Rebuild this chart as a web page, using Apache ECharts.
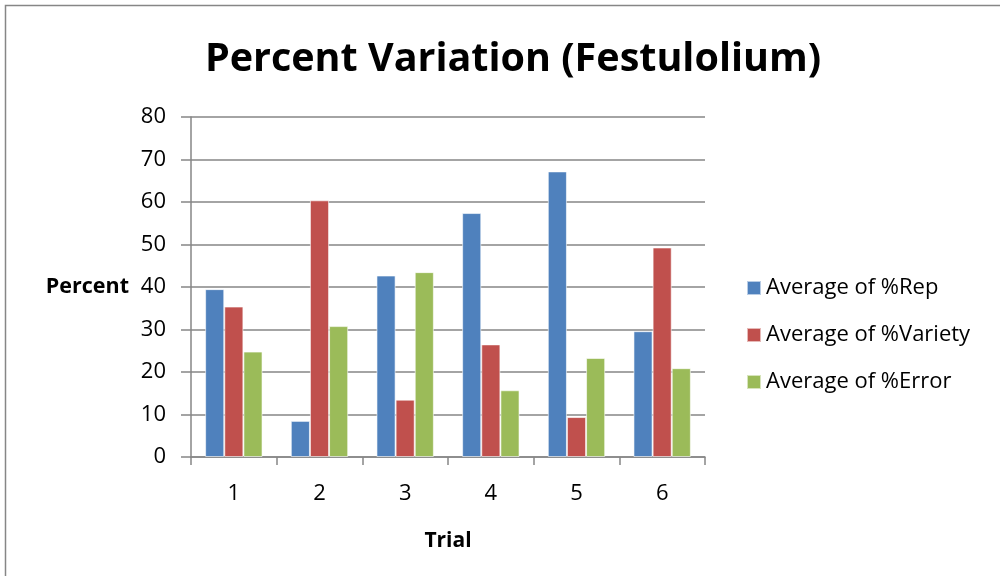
<!DOCTYPE html>
<html><head><meta charset="utf-8">
<script src="https://cdn.jsdelivr.net/npm/echarts@6/dist/echarts.min.js"></script>
<style>html,body{margin:0;padding:0;background:#fff}#c{width:1000px;height:576px}</style>
</head><body><div id="c"></div>
<script>
const categories = ['1','2','3','4','5','6'];
const seriesNames = ['Average of %Rep','Average of %Variety','Average of %Error'];
const rep = [39.5, 8.5, 42.7, 57.4, 67.2, 29.6];
const variety = [35.4, 60.4, 13.5, 26.5, 9.4, 49.3];
const error = [24.8, 30.8, 43.5, 15.7, 23.3, 20.9];
const colors = ['#4F81BD','#C0504D','#9BBB59'];
const FONT = '"Open Sans", sans-serif';
const chart = echarts.init(document.getElementById('c'));
const mk = (name, data, i) => ({
  name, type:'bar', data, barGap:'0%', barCategoryGap:'33%',
  itemStyle:{color:colors[i], borderColor:'rgba(255,255,255,0.6)', borderWidth:1}
});
chart.setOption({
  animation:false,
  title:{text:'Percent Variation (Festulolium)', left:508, textAlign:'center', top:35,
    textStyle:{fontFamily:FONT, fontWeight:'bold', fontSize:39.5, color:'#000'}},
  legend:{orient:'vertical', left:741, top:272, itemGap:25, itemWidth:14, itemHeight:14,
    icon:'rect', textStyle:{fontFamily:FONT, fontSize:22, color:'#000'}, data:seriesNames},
  grid:{left:191, right:295, top:117, bottom:119},
  xAxis:{type:'category', data:categories, name:'Trial', nameLocation:'middle', nameGap:74,
    nameTextStyle:{fontFamily:FONT, fontWeight:'bold', fontSize:21, color:'#000'},
    axisLine:{lineStyle:{color:'#868686', width:1.5}},
    axisTick:{show:true, length:8, lineStyle:{color:'#868686', width:1.5}},
    axisLabel:{fontFamily:FONT, fontSize:22, color:'#000', margin:26}},
  yAxis:{type:'value', min:0, max:80, interval:10, name:'Percent', nameLocation:'middle', nameGap:62,
    nameRotate:0,
    nameTextStyle:{fontFamily:FONT, fontWeight:'bold', fontSize:21.5, color:'#000', padding:[6,0,0,0]},
    axisLine:{show:true, lineStyle:{color:'#868686', width:1.5}},
    axisTick:{show:true, length:10, lineStyle:{color:'#868686', width:1.5}},
    splitLine:{lineStyle:{color:'#868686', width:1.5}},
    axisLabel:{fontFamily:FONT, fontSize:22, color:'#000', margin:25}},
  series:[mk(seriesNames[0], rep, 0), mk(seriesNames[1], variety, 1), mk(seriesNames[2], error, 2)],
  graphic:[{type:'rect', shape:{x:5.5, y:5.5, width:1000, height:600}, style:{fill:'none', stroke:'#868686', lineWidth:1.5}, silent:true}]
});
</script></body></html>
